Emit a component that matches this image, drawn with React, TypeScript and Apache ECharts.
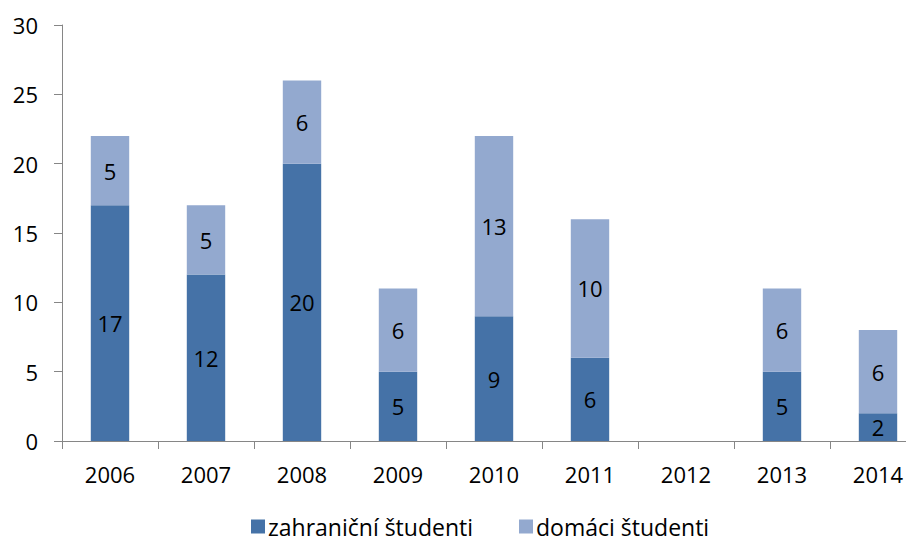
import React, { useEffect, useRef } from "react";
import * as echarts from "echarts";

const categories = ["2006", "2007", "2008", "2009", "2010", "2011", "2012", "2013", "2014"];
const foreignStudents: (number | null)[] = [17, 12, 20, 5, 9, 6, null, 5, 2];
const domesticStudents: (number | null)[] = [5, 5, 6, 6, 13, 10, null, 6, 6];
const seriesNames = ["zahraniční študenti", "domáci študenti"];

const FONT = "'Open Sans', sans-serif";

export default function App() {
  const ref = useRef<HTMLDivElement>(null);
  useEffect(() => {
    if (!ref.current) return;
    const chart = echarts.init(ref.current, null, { renderer: "svg" });
    const labelCfg = {
      show: true,
      position: "inside" as const,
      color: "#000",
      fontFamily: FONT,
      fontSize: 22,
    };
    chart.setOption({
      animation: false,
      grid: { left: 62, top: 25, right: 0, bottom: 101 },
      legend: {
        left: 246,
        top: 510,
        itemWidth: 14,
        itemHeight: 14,
        itemGap: 46,
        icon: "rect",
        textStyle: { fontFamily: FONT, fontSize: 23, color: "#000", padding: [0, 0, 0, -2] },
        data: seriesNames,
      },
      xAxis: {
        type: "category",
        data: categories,
        axisLine: { show: true, lineStyle: { color: "#868686", width: 1 } },
        axisTick: { show: true, length: 8, alignWithLabel: false, lineStyle: { color: "#868686" } },
        axisLabel: { color: "#000", fontFamily: FONT, fontSize: 22, margin: 22 },
      },
      yAxis: {
        type: "value",
        min: 0,
        max: 30,
        interval: 5,
        axisLine: { show: true, lineStyle: { color: "#868686", width: 1 } },
        axisTick: { show: true, length: 8, lineStyle: { color: "#868686" } },
        splitLine: { show: false },
        axisLabel: { color: "#000", fontFamily: FONT, fontSize: 22, margin: 24 },
      },
      series: [
        {
          name: seriesNames[0],
          type: "bar",
          stack: "total",
          barWidth: "40%",
          data: foreignStudents,
          itemStyle: { color: "#4572A7" },
          label: labelCfg,
        },
        {
          name: seriesNames[1],
          type: "bar",
          stack: "total",
          barWidth: "40%",
          data: domesticStudents,
          itemStyle: { color: "#93A9CF" },
          label: labelCfg,
        },
      ],
    });
    return () => chart.dispose();
  }, []);
  return (
    <div style={{ width: 906, height: 542, position: "absolute", left: 0, top: 0, overflow: "hidden" }}>
      <div ref={ref} style={{ width: 926, height: 542 }} />
    </div>
  );
}
